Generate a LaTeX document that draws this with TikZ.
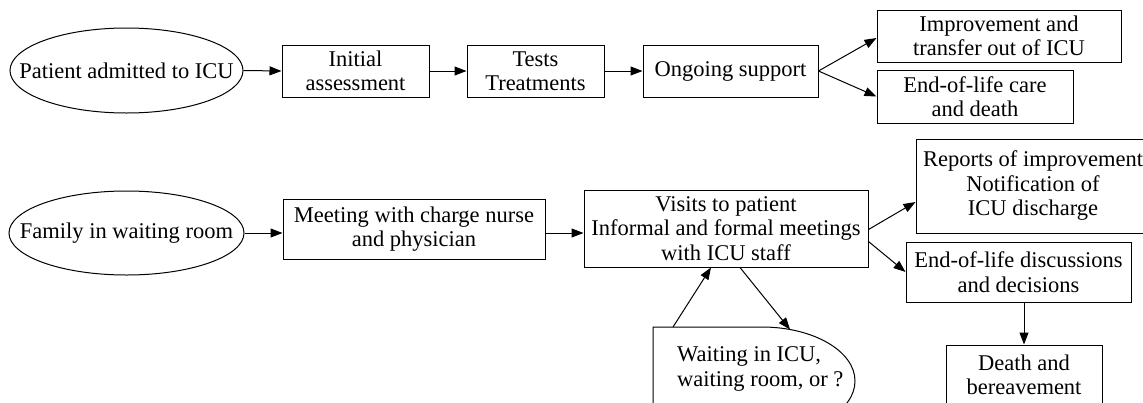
\documentclass[tikz,border=0pt]{standalone}
\usepackage{fontspec}
\setmainfont{Liberation Serif}
\usetikzlibrary{shapes.geometric,arrows.meta,calc}
\tikzset{
  txt/.style={font=\fontsize{22.5}{24.5}\selectfont},
  box/.style={draw, rectangle, inner sep=0pt, align=center, line width=1pt, txt},
  oval/.style={draw, ellipse, inner sep=0pt, line width=1pt, txt},
  arr/.style={-{Triangle[length=12pt,width=9pt]}, line width=1pt},
}
\begin{document}
\begin{tikzpicture}[x=1pt,y=-1pt]
\useasboundingbox (0,0) rectangle (1143,402);
\clip (0,0) rectangle (1143,402);
% top row
\node[oval, minimum width=233, minimum height=85] (pat) at (126.5,70.5) {\makebox[0pt]{Patient admitted to ICU}};
\node[box, minimum width=147, minimum height=52] (init) at (355.5,71) {Initial\\assessment};
\node[box, minimum width=137, minimum height=52] (tests) at (535.5,71) {Tests\\Treatments};
\node[box, minimum width=175, minimum height=52] (ongo) at (730.5,71) {Ongoing support};
\node[box, minimum width=244, minimum height=52] (impr) at (999,36) {Improvement and\\transfer out of ICU};
\node[box, minimum width=196, minimum height=53] (eolc) at (975,96.5) {End-of-life care\\and death};
\draw[arr] (pat.east) -- (init.west);
\draw[arr] (init.east) -- (tests.west);
\draw[arr] (tests.east) -- (ongo.west);
\draw[arr] (ongo.east) -- ($(impr.west)+(0,2)$);
\draw[arr] (ongo.east) -- (eolc.west);
% bottom row
\node[oval, minimum width=235, minimum height=84] (fam) at (126.5,233) {\makebox[0pt]{Family in waiting room}};
\node[box, minimum width=262, minimum height=60] (meet) at (414,229) {Meeting with charge nurse\\and physician};
\node[box, minimum width=284, minimum height=77] (vis) at (726,228.5) {Visits to patient\\Informal and formal meetings\\with ICU staff};
\node[box, minimum width=234, minimum height=94] (rep) at (1033,186) {Reports of improvement\\Notification of\\ICU discharge};
\node[box, minimum width=225, minimum height=60] (eold) at (1018.5,272) {End-of-life discussions\\and decisions};
\node[box, minimum width=156, minimum height=60] (death) at (1024,375) {Death and\\bereavement};
\draw[arr] (fam.east) -- (fam.east -| meet.west);
\draw[arr] ($(meet.east)+(0,4)$) -- ($(meet.east -| vis.west)+(0,4)$);
\draw[arr] ($(vis.east)+(0,1)$) -- ($(rep.west)+(0,16)$);
\draw[arr] ($(vis.east)+(0,13)$) -- (eold.west);
\draw[arr] (eold.south -| death.north) -- (death.north);
% waiting shape
\draw[line width=1pt] (653,440) -- (653,327) -- (762,327)
  arc[start angle=90, end angle=-90, x radius=93pt, y radius=54pt] -- (653,435);
\node[txt, align=left, anchor=west, inner sep=0pt] (wait) at (677,369) {Waiting in ICU,\\waiting room, or ?};
\coordinate (wt1) at (673,327);
\coordinate (wt2) at (790,329.5);
\coordinate (vb1) at ($(vis.south)+(-15,0)$);
\coordinate (vb2) at ($(vis.south)+(14,0)$);
\draw[arr] (wt1) -- (vb1);
\draw[arr] (vb2) -- (wt2);
\end{tikzpicture}
\end{document}
